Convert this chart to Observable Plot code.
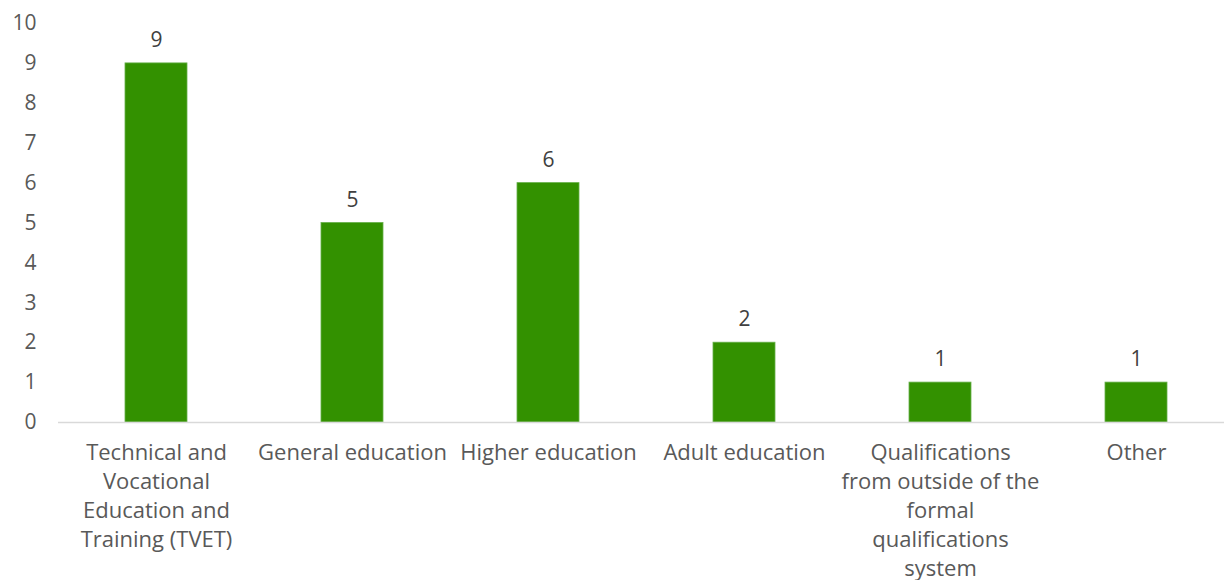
<!DOCTYPE html>
<html>
<head>
<meta charset="utf-8">
<script src="https://cdn.jsdelivr.net/npm/d3@7"></script>
<script src="https://cdn.jsdelivr.net/npm/@observablehq/plot@0.6"></script>
<style>
  html, body { margin: 0; padding: 0; background: #fff; }
  svg { font-family: "Open Sans", sans-serif; }
</style>
</head>
<body>
<div id="chart"></div>
<script>
const categories = [
  "Technical and Vocational Education and Training (TVET)",
  "General education",
  "Higher education",
  "Adult education",
  "Qualifications from outside of the formal qualifications system",
  "Other"
];
const values = [9, 5, 6, 2, 1, 1];
const tickLabels = [
  "Technical and\nVocational\nEducation and\nTraining (TVET)",
  "General education",
  "Higher education",
  "Adult education",
  "Qualifications\nfrom outside of the\nformal\nqualifications\nsystem",
  "Other"
];
const yTicks = [0, 1, 2, 3, 4, 5, 6, 7, 8, 9, 10];

const data = categories.map((c, i) => ({category: c, value: values[i]}));
const labelOf = new Map(categories.map((c, i) => [c, tickLabels[i]]));

const chart = Plot.plot({
  width: 1224,
  height: 580,
  marginTop: 23,
  marginBottom: 158,
  marginLeft: 58,
  marginRight: 0,
  style: {fontFamily: "'Open Sans', sans-serif", fontSize: "21px", color: "#595959"},
  x: {domain: categories, range: [58, 1234], padding: 0, label: null},
  y: {domain: [0, 10], label: null},
  marks: [
    Plot.barY(data, {x: "category", y: "value", fill: "#339100", stroke: "#66b04a", strokeWidth: 0.8, insetLeft: 67, insetRight: 67}),
    Plot.ruleY([0], {stroke: "#d9d9d9", strokeWidth: 1.5}),
    Plot.text(data, {x: "category", y: "value", text: d => String(d.value), dy: -23, fill: "#404040", fontSize: 21}),
    Plot.axisY({ticks: yTicks, tickSize: 0, tickPadding: 22, fill: "#595959", fontSize: 21, label: null}),
    Plot.axisX({tickSize: 0, tickPadding: 17, tickFormat: d => labelOf.get(d), lineHeight: 1.32, fill: "#595959", fontSize: 22, textAnchor: "middle", lineWidth: 100, label: null})
  ]
});
document.getElementById("chart").appendChild(chart);
</script>
</body>
</html>
